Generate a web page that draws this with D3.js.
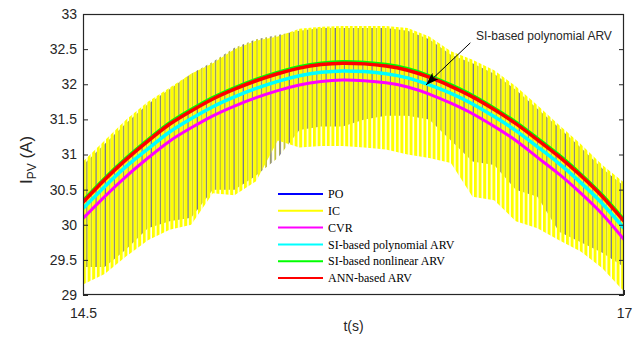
<!DOCTYPE html>
<html><head><meta charset="utf-8">
<script src="https://cdn.jsdelivr.net/npm/d3@7"></script>
<style>body{margin:0;background:#fff}</style>
</head><body><svg id="c" width="643" height="337"></svg>
<script>
// ---- data ----
const tKnots   = [14.5,14.6,14.7,14.8,14.9,15.0,15.1,15.2,15.3,15.4,15.5,15.6,15.7,15.8,15.9,16.0,16.1,16.2,16.3,16.4,16.5,16.6,16.7,16.8,16.9,17.0];
const icUpper  = [30.9,31.2,31.5,31.75,31.95,32.15,32.3,32.5,32.62,32.68,32.79,32.82,32.83,32.83,32.83,32.8,32.68,32.47,32.35,32.2,31.97,31.7,31.42,31.15,30.85,30.6];
const icLower  = [29.15,29.3,29.55,29.78,29.93,30.0,30.45,30.42,30.62,31.2,31.1,31.12,31.12,31.1,31.07,31.0,30.95,30.88,30.4,30.35,30.05,29.95,29.78,29.62,29.38,29.05];
const poUpper  = [30.85,31.15,31.45,31.72,31.93,32.15,32.32,32.52,32.64,32.7,32.76,32.8,32.8,32.8,32.8,32.76,32.64,32.42,32.3,32.15,31.92,31.65,31.38,31.1,30.8,30.55];
const poLower  = [29.4,29.4,29.65,29.95,30.05,30.1,30.5,30.5,30.7,30.95,31.35,31.4,31.4,31.5,31.55,31.55,31.5,31.2,30.9,30.85,30.5,30.4,29.9,29.75,29.6,29.4];
const cvrArv   = [30.09,30.4,30.69,30.95,31.19,31.38,31.55,31.69,31.81,31.91,31.99,32.04,32.06,32.05,32.02,31.96,31.86,31.73,31.58,31.4,31.2,30.96,30.72,30.45,30.15,29.79];
const siPoly   = [30.23,30.54,30.83,31.08,31.32,31.51,31.68,31.82,31.94,32.04,32.12,32.17,32.19,32.18,32.15,32.09,31.99,31.87,31.72,31.54,31.34,31.11,30.87,30.6,30.3,29.95];
const siNonlin = [30.34,30.66,30.95,31.21,31.45,31.64,31.81,31.95,32.07,32.17,32.25,32.3,32.32,32.31,32.28,32.22,32.12,31.99,31.84,31.66,31.46,31.23,30.99,30.72,30.42,30.07];
const annArv   = [30.32,30.64,30.93,31.19,31.43,31.62,31.79,31.93,32.05,32.15,32.23,32.28,32.30,32.29,32.26,32.2,32.1,31.97,31.82,31.64,31.44,31.21,30.97,30.7,30.4,30.05];
const yTicks = [29,29.5,30,30.5,31,31.5,32,32.5,33];
const xTicks = [14.5,17];
const legendLabels = ["PO","IC","CVR","SI-based polynomial ARV","SI-based nonlinear ARV","ANN-based ARV"];
const annotationText = "SI-based polynomial ARV";
const annotationTip = [16.085, 31.99];
const annotationTail = [16.29, 32.59];

// ---- layout ----
const W = 643, H = 337;
const m = {l:83, r:19, t:14, b:42};
const svg = d3.select("#c");
const x = d3.scaleLinear().domain([14.5,17]).range([m.l, W-m.r]);
const y = d3.scaleLinear().domain([29,33]).range([H-m.b, m.t]);
const font = "'Liberation Sans', Arial, sans-serif";
const axCol = "#262626";
const colors = {PO:"#0000ff", IC:"#ffff00", CVR:"#ff00ff", SIP:"#00ffff", SIN:"#00ff00", ANN:"#ff0000"};

const defs = svg.append("defs");
defs.append("clipPath").attr("id","clip").append("rect")
  .attr("x",m.l).attr("y",m.t).attr("width",W-m.l-m.r).attr("height",H-m.t-m.b);
const P = 4.6;
const icPat = defs.append("pattern").attr("id","icPat").attr("patternUnits","userSpaceOnUse")
  .attr("x",m.l).attr("y",0).attr("width",P).attr("height",20);
icPat.append("rect").attr("x",0).attr("y",0).attr("width",3).attr("height",20).attr("fill",colors.IC);
const poPat = defs.append("pattern").attr("id","poPat").attr("patternUnits","userSpaceOnUse")
  .attr("x",m.l).attr("y",0).attr("width",2*P).attr("height",20);
poPat.append("rect").attr("x",2.8).attr("y",0).attr("width",2.0).attr("height",20).attr("fill",colors.IC);
poPat.append("rect").attr("x",3.3).attr("y",0).attr("width",1.0).attr("height",20).attr("fill",colors.PO).attr("fill-opacity",0.8);
poPat.append("rect").attr("x",P+2.8).attr("y",0).attr("width",2.0).attr("height",20).attr("fill",colors.IC);
poPat.append("rect").attr("x",P+3.3).attr("y",0).attr("width",0.9).attr("height",20).attr("fill",colors.PO).attr("fill-opacity",0.45);

const g = svg.append("g").attr("clip-path","url(#clip)");
const idx = d3.range(tKnots.length);
const band = (up, lo) => d3.area().x(i=>x(tKnots[i])).y0(i=>y(lo[i])).y1(i=>y(up[i]))(idx);

g.append("path").attr("d", band(poUpper, poLower)).attr("fill","url(#poPat)");
g.append("path").attr("d", band(icUpper, icLower)).attr("fill","url(#icPat)");

const line = arr => d3.line().curve(d3.curveNatural).x(i=>x(tKnots[i])).y(i=>y(arr[i]))(idx);
[[cvrArv,colors.CVR,3],[siPoly,colors.SIP,3.5],[siNonlin,colors.SIN,3.5],[annArv,colors.ANN,3.5]].forEach(([arr,c,w])=>{
  g.append("path").attr("d", line(arr)).attr("fill","none").attr("stroke",c).attr("stroke-width",w);
});

// ---- axes ----
const yAxL = svg.append("g").attr("transform",`translate(${m.l},0)`)
  .call(d3.axisLeft(y).tickValues(yTicks).tickSize(-5).tickPadding(6).tickFormat(d3.format("")));
const yAxR = svg.append("g").attr("transform",`translate(${W-m.r},0)`)
  .call(d3.axisRight(y).tickValues(yTicks).tickSize(-5).tickFormat(""));
const xAx = svg.append("g").attr("transform",`translate(0,${H-m.b})`)
  .call(d3.axisBottom(x).tickValues(xTicks).tickSize(-5).tickPadding(13).tickFormat(d3.format("")));
[yAxL,yAxR,xAx].forEach(a=>{
  a.selectAll("path.domain").remove();
  a.selectAll("line").attr("stroke",axCol);
  a.selectAll("text").attr("fill",axCol).style("font-family",font).style("font-size","14px");
});
svg.append("rect").attr("x",m.l+0.5).attr("y",m.t+0.5).attr("width",W-m.l-m.r-1).attr("height",H-m.t-m.b-1)
  .attr("fill","none").attr("stroke",axCol).attr("stroke-width",1.2);

// axis labels
svg.append("text").attr("x",(m.l+W-m.r)/2).attr("y",331).attr("text-anchor","middle")
  .style("font-family",font).style("font-size","14px").attr("fill",axCol).text("t(s)");
const yl = svg.append("text").attr("transform","translate(32,160) rotate(-90)").attr("text-anchor","middle")
  .style("font-family",font).style("font-size","17px").attr("fill",axCol);
yl.append("tspan").text("I");
yl.append("tspan").attr("dy",4).style("font-size","12px").text("PV");
yl.append("tspan").attr("dy",-4).text(" (A)");

// annotation
defs.append("marker").attr("id","arr").attr("viewBox","0 0 13 9").attr("refX",13).attr("refY",4.5)
  .attr("markerWidth",13).attr("markerHeight",9).attr("markerUnits","userSpaceOnUse").attr("orient","auto")
  .append("path").attr("d","M0,0 L13,4.5 L0,9 L3,4.5 Z").attr("fill","#000");
svg.append("line").attr("x1",x(annotationTail[0])).attr("y1",y(annotationTail[1]))
  .attr("x2",x(annotationTip[0])).attr("y2",y(annotationTip[1]))
  .attr("stroke","#000").attr("stroke-width",1).attr("marker-end","url(#arr)");
svg.append("text").attr("x",476).attr("y",40).style("font-family",font).style("font-size","12px")
  .attr("fill","#262626").text(annotationText);

// legend
const legCols = [colors.PO,colors.IC,colors.CVR,colors.SIP,colors.SIN,colors.ANN];
const lg = svg.append("g");
legendLabels.forEach((lab,i)=>{
  const yy = 194 + i*16.8;
  lg.append("line").attr("x1",278).attr("x2",323).attr("y1",yy).attr("y2",yy)
    .attr("stroke",legCols[i]).attr("stroke-width",2);
  lg.append("text").attr("x",328).attr("y",yy).attr("dy","0.35em")
    .style("font-family","'Liberation Serif','Times New Roman',serif").style("font-size","12px")
    .attr("fill","#000").text(lab);
});
</script></body></html>
